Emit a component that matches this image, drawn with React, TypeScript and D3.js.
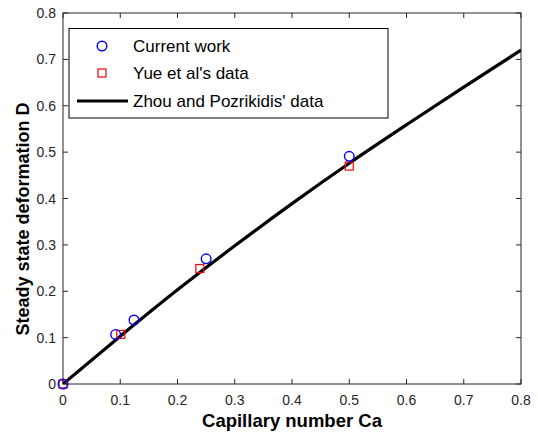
import React from "react";
import * as d3 from "d3";

// Zhou and Pozrikidis' curve
const curveCa = [0, 0.1, 0.2, 0.3, 0.4, 0.5, 0.6, 0.7, 0.8];
const curveD = [0, 0.103, 0.203, 0.298, 0.389, 0.476, 0.559, 0.64, 0.72];

// Current work
const currentCa = [0, 0.092, 0.124, 0.25, 0.5];
const currentD = [0, 0.107, 0.138, 0.27, 0.491];

// Yue et al's data
const yueCa = [0, 0.101, 0.239, 0.5];
const yueD = [0, 0.107, 0.249, 0.47];

const xTicks = [0, 0.1, 0.2, 0.3, 0.4, 0.5, 0.6, 0.7, 0.8];
const yTicks = [0, 0.1, 0.2, 0.3, 0.4, 0.5, 0.6, 0.7, 0.8];

const W = 538, H = 433;
const m = { left: 63, right: 17, top: 13, bottom: 49 };
const font = "'Liberation Sans', Arial, Helvetica, sans-serif";

export default function App() {
  const x = d3.scaleLinear().domain([0, 0.8]).range([m.left, W - m.right]);
  const y = d3.scaleLinear().domain([0, 0.8]).range([H - m.bottom, m.top]);
  const line = d3
    .line<number>()
    .x((d, i) => x(curveCa[i]))
    .y((d) => y(d))
    .curve(d3.curveMonotoneX);
  const x0 = x(0), x1 = x(0.8), y0 = y(0), y1 = y(0.8);
  const tk = 5;
  const fmt = (v: number) => (v === 0 ? "0" : String(v));

  return (
    <svg width={W} height={H} style={{ position: "absolute", left: 0, top: 0, background: "#fff" }} fontFamily={font}>
      <defs>
        <clipPath id="plot">
          <rect x={x0} y={y1} width={x1 - x0} height={y0 - y1} />
        </clipPath>
      </defs>
      <rect x={x0} y={y1} width={x1 - x0} height={y0 - y1} fill="#fff" />

      {xTicks.map((t) => (
        <g key={"x" + t}>
          <line x1={x(t)} x2={x(t)} y1={y0} y2={y0 - tk} stroke="#262626" />
          <line x1={x(t)} x2={x(t)} y1={y1} y2={y1 + tk} stroke="#262626" />
          <text x={x(t)} y={y0 + 21} textAnchor="middle" fontSize={14} fill="#262626">{fmt(t)}</text>
        </g>
      ))}
      {yTicks.map((t) => (
        <g key={"y" + t}>
          <line x1={x0} x2={x0 + tk} y1={y(t)} y2={y(t)} stroke="#262626" />
          <line x1={x1} x2={x1 - tk} y1={y(t)} y2={y(t)} stroke="#262626" />
          <text x={x0 - 7} y={y(t) + 5} textAnchor="end" fontSize={14} fill="#262626">{fmt(t)}</text>
        </g>
      ))}
      <rect x={x0} y={y1} width={x1 - x0} height={y0 - y1} fill="none" stroke="#262626" strokeWidth={1} />

      <g clipPath="url(#plot)">
        <path d={line(curveD) || ""} fill="none" stroke="#000" strokeWidth={3.2} />
      </g>
      {yueCa.map((c, i) => (
        <rect key={"s" + i} x={x(c) - 4} y={y(yueD[i]) - 4} width={8} height={8} fill="none" stroke="#ff0000" strokeWidth={1.2} />
      ))}
      {currentCa.map((c, i) => (
        <circle key={"c" + i} cx={x(c)} cy={y(currentD[i])} r={4.8} fill="none" stroke="#0000ff" strokeWidth={1.4} />
      ))}

      <text x={(x0 + x1) / 2} y={H - 6} textAnchor="middle" fontSize={18.5} fontWeight="bold" fill="#000">Capillary number Ca</text>
      <text transform={`translate(29,219) rotate(-90)`} textAnchor="middle" fontSize={18} fontWeight="bold" fill="#000">Steady state deformation D</text>

      <g>
        <rect x={69} y={28.5} width={319} height={89.5} fill="#fff" stroke="#000" strokeWidth={1} />
        <circle cx={102} cy={46} r={4.8} fill="none" stroke="#0000ff" strokeWidth={1.4} />
        <text x={133} y={52} fontSize={17} fill="#000">Current work</text>
        <rect x={98} y={69} width={8} height={8} fill="none" stroke="#ff0000" strokeWidth={1.2} />
        <text x={133} y={79} fontSize={17} fill="#000">Yue et al's data</text>
        <line x1={77} x2={128} y1={101} y2={101} stroke="#000" strokeWidth={3.2} />
        <text x={133} y={107} fontSize={17} fill="#000">Zhou and Pozrikidis' data</text>
      </g>
    </svg>
  );
}
